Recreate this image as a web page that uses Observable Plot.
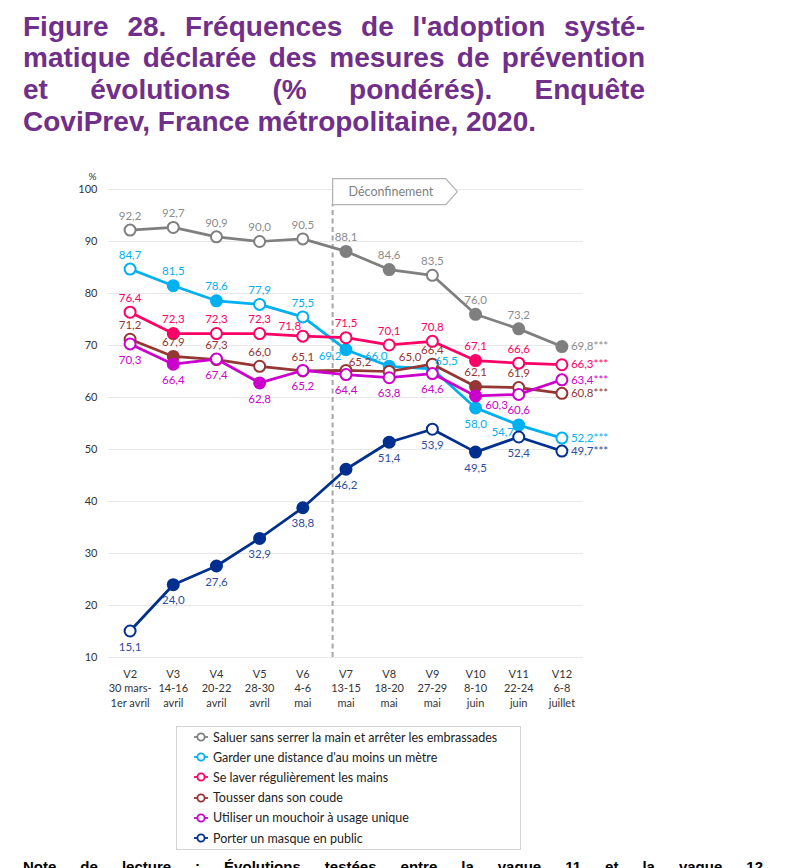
<!DOCTYPE html>
<html lang="fr">
<head>
<meta charset="utf-8">
<script src="https://cdn.jsdelivr.net/npm/d3@7"></script>
<script src="https://cdn.jsdelivr.net/npm/@observablehq/plot@0.6"></script>
<style>
  html, body { margin: 0; padding: 0; background: #fff; }
  body { width: 788px; height: 868px; overflow: hidden; position: relative; font-family: Lato, "Open Sans", sans-serif; }
  #title { position: absolute; left: 23px; top: 10.5px; width: 622px; font: bold 28px/31.7px "Liberation Sans", Arial, sans-serif; color: #702f8a; }
  #title div { white-space: nowrap; text-align: justify; text-align-last: justify; }
  #title div.last { text-align-last: left; }
  #chart { position: absolute; left: 0; top: 160px; }
  #legend { position: absolute; left: 176px; top: 726px; width: 345px; height: 124px; border: 1px solid #d4d4d4; box-sizing: border-box; padding-top: 0px; }
  .item { display: flex; align-items: center; height: 20.2px; font-size: 12.5px; color: #222; }
  .item svg { margin-left: 17px; margin-right: 5px; }
  #note { position: absolute; left: 23px; top: 858px; width: 740px; font: bold 15px/18px "Liberation Sans", Arial, sans-serif; color: #000; white-space: nowrap; text-align: justify; text-align-last: justify; }
</style>
</head>
<body>
<div id="title">
  <div>Figure 28. Fréquences de l'adoption systé-</div>
  <div>matique déclarée des mesures de prévention</div>
  <div>et évolutions (% pondérés). Enquête</div>
  <div class="last">CoviPrev, France métropolitaine, 2020.</div>
</div>
<div id="chart"></div>
<div id="legend"></div>
<div id="note">Note de lecture : Évolutions testées entre la vague 11 et la vague 12</div>
<script>
// ---------- data ----------
const waves = ["V2","V3","V4","V5","V6","V7","V8","V9","V10","V11","V12"];
const dates = ["30 mars-\n1er avril","14-16\navril","20-22\navril","28-30\navril","4-6\nmai","13-15\nmai","18-20\nmai","27-29\nmai","8-10\njuin","22-24\njuin","6-8\njuillet"];
const mesures = [
  "Saluer sans serrer la main et arrêter les embrassades",
  "Garder une distance d'au moins un mètre",
  "Se laver régulièrement les mains",
  "Tousser dans son coude",
  "Utiliser un mouchoir à usage unique",
  "Porter un masque en public"
];
const saluer   = [92.2, 92.7, 90.9, 90.0, 90.5, 88.1, 84.6, 83.5, 76.0, 73.2, 69.8];
const distance = [84.7, 81.5, 78.6, 77.9, 75.5, 69.2, 66.0, 65.5, 58.0, 54.7, 52.2];
const laver    = [76.4, 72.3, 72.3, 72.3, 71.8, 71.5, 70.1, 70.8, 67.1, 66.6, 66.3];
const tousser  = [71.2, 67.9, 67.3, 66.0, 65.1, 65.2, 65.0, 66.4, 62.1, 61.9, 60.8];
const mouchoir = [70.3, 66.4, 67.4, 62.8, 65.2, 64.4, 63.8, 64.6, 60.3, 60.6, 63.4];
const masque   = [15.1, 24.0, 27.6, 32.9, 38.8, 46.2, 51.4, 53.9, 49.5, 52.4, 49.7];
// filled marker = significant change vs previous wave
const sigSaluer   = [0,0,0,0,0,1,1,0,1,1,1];
const sigDistance = [0,1,1,0,0,1,1,0,1,1,0];
const sigLaver    = [0,1,0,0,0,0,0,0,1,0,0];
const sigTousser  = [0,1,0,0,0,0,0,0,1,0,0];
const sigMouchoir = [0,1,0,1,0,0,0,0,1,0,0];
const sigMasque   = [0,1,1,1,1,1,1,0,1,0,0];
const endMark = "***";
const deconfinement = {wave: 4.69, label: "Déconfinement"};

// ---------- styles ----------
const lineColors  = ["#7f7f7f", "#00b0f0", "#ff0066", "#943634", "#cc00cc", "#002f8e"];
const labelColors = ["#8c8c8c", "#00b0f0", "#ff0066", "#943634", "#cc00cc", "#2f4d9e"];
const labelPlacement = [
  ["t","t","t","t","t","t","t","t","t","t","e"],
  ["t","t","t","t","t","l","tl","tr","b","l","e"],
  ["t","t","t","t","tl","t","t","t","t","t","e"],
  ["t","t","t","t","t","tr","tr2","t","t","t","e"],
  ["b","b","b","b","b","b","b","b","br","b","e"],
  ["b","b","b","b","b","b","b","b","b","b","e"]
];
const offsets = {
  t: [0, -14], b: [0, 16], l: [-16, 7], tl: [-13, -10],
  tr: [14, -8], tr2: [21, -14], br: [21, 9]
};

const values = [saluer, distance, laver, tousser, mouchoir, masque];
const sigs = [sigSaluer, sigDistance, sigLaver, sigTousser, sigMouchoir, sigMasque];
const fmt = v => d3.format(".1f")(v).replace(".", ",");

const marks = [
  Plot.gridY({ticks: d3.range(10, 101, 10), stroke: "#e8e8e8", strokeOpacity: 1}),
  Plot.axisY({ticks: d3.range(10, 101, 10), tickSize: 0, tickPadding: 11, label: null, fontSize: 11, fill: "#333"}),
  Plot.axisX({ticks: d3.range(waves.length), tickFormat: i => waves[i] + "\n" + dates[i], tickSize: 0, tickPadding: 10, lineHeight: 1.32, label: null, fontSize: 11, fill: "#333"}),
  Plot.text(["%"], {frameAnchor: "top-left", lineAnchor: "middle", text: d => d, dx: -20, dy: -13, fontSize: 10, fill: "#333"}),
  // déconfinement marker
  Plot.ruleX([deconfinement], {x: "wave", y1: 10, y2: 97.1, stroke: "#a6a6a6", strokeWidth: 2, strokeDasharray: "5,3.5"}),
  Plot.line([
    [deconfinement.wave, 102.1], [deconfinement.wave + 2.62, 102.1], [deconfinement.wave + 2.89, 99.6],
    [deconfinement.wave + 2.62, 97.1], [deconfinement.wave, 97.1], [deconfinement.wave, 102.1]
  ], {x: d => d[0], y: d => d[1], stroke: "#b3b3b3", strokeWidth: 1.3, fill: "white", curve: "linear"}),
  Plot.text([deconfinement], {x: d => d.wave + 1.35, y: 99.6, text: "label", fill: "#7f7f7f", fontSize: 12.5})
];

values.forEach((vals, s) => {
  const rows = vals.map((v, i) => ({i, v, sig: sigs[s][i], pos: labelPlacement[s][i]}));
  marks.push(Plot.line(rows, {x: "i", y: "v", stroke: lineColors[s], strokeWidth: 2.75}));
  marks.push(Plot.dot(rows.filter(d => !d.sig), {x: "i", y: "v", r: 5.5, stroke: lineColors[s], strokeWidth: 2, fill: "white"}));
  marks.push(Plot.dot(rows.filter(d => d.sig), {x: "i", y: "v", r: 5.5, stroke: lineColors[s], strokeWidth: 2, fill: lineColors[s]}));
});
values.forEach((vals, s) => {
  const rows = vals.map((v, i) => ({i, v, pos: labelPlacement[s][i]}));
  for (const code of Object.keys(offsets)) {
    const sub = rows.filter(d => d.pos === code);
    if (!sub.length) continue;
    marks.push(Plot.text(sub, {x: "i", y: "v", text: d => fmt(d.v), dx: offsets[code][0], dy: offsets[code][1], fill: labelColors[s], fontSize: 11.5}));
  }
  const end = rows.filter(d => d.pos === "e");
  marks.push(Plot.text(end, {x: "i", y: "v", text: d => fmt(d.v) + endMark, dx: 9, textAnchor: "start", fill: labelColors[s], fontSize: 11.5, ariaLabel: "end-label"}));
});

const chart = Plot.plot({
  width: 788,
  height: 552,
  marginLeft: 108,
  marginRight: 205,
  marginTop: 29,
  marginBottom: 55,
  x: {domain: [-0.5, waves.length - 0.5]},
  y: {domain: [10, 100]},
  style: {fontFamily: "Lato, 'Open Sans', sans-serif", fontSize: "11px", background: "white", overflow: "visible"},
  marks
});
document.getElementById("chart").appendChild(chart);

// underline the final values, keep the stars plain
d3.select(chart).selectAll('g[aria-label="end-label"] text').each(function () {
  const t = this.textContent;
  const num = t.replace(endMark, "");
  const sel = d3.select(this);
  sel.text(null);
  sel.append("tspan").attr("text-decoration", "underline").text(num);
  sel.append("tspan").text(endMark);
});

// legend
const legend = d3.select("#legend");
mesures.forEach((m, s) => {
  const item = legend.append("div").attr("class", "item");
  const svg = item.append("svg").attr("width", 14).attr("height", 12);
  svg.append("line").attr("x1", 0).attr("x2", 14).attr("y1", 6).attr("y2", 6).attr("stroke", lineColors[s]).attr("stroke-width", 1.8);
  svg.append("circle").attr("cx", 7).attr("cy", 6).attr("r", 3.6).attr("fill", "white").attr("stroke", lineColors[s]).attr("stroke-width", 1.8);
  item.append("span").text(m);
});
</script>
</body>
</html>
